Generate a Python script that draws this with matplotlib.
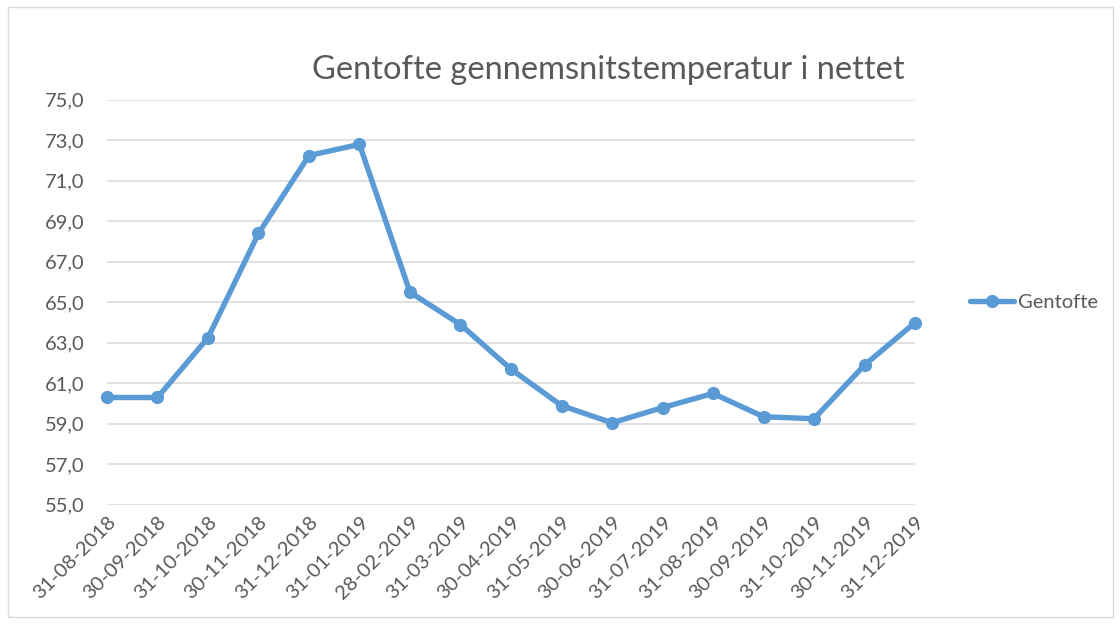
import matplotlib
matplotlib.use("Agg")
import matplotlib.pyplot as plt
from matplotlib.patches import Rectangle

dates = ["31-08-2018", "30-09-2018", "31-10-2018", "30-11-2018", "31-12-2018",
         "31-01-2019", "28-02-2019", "31-03-2019", "30-04-2019", "31-05-2019",
         "30-06-2019", "31-07-2019", "31-08-2019", "30-09-2019", "31-10-2019",
         "30-11-2019", "31-12-2019"]
gentofte = [60.3, 60.3, 63.25, 68.4, 72.25, 72.8, 65.5, 63.9, 61.7, 59.9,
            59.05, 59.8, 60.5, 59.35, 59.25, 61.9, 64.0]
yticks = [55, 57, 59, 61, 63, 65, 67, 69, 71, 73, 75]
title = "Gentofte gennemsnitstemperatur i nettet"
series_name = "Gentofte"

plt.rcParams['font.family'] = ['Lato', 'DejaVu Sans']
txt = "#595959"
blue = "#5B9BD5"

fig = plt.figure(figsize=(11.2, 6.24), dpi=100)
fig.patches.append(Rectangle((0.007, 0.012), 0.987, 0.976, transform=fig.transFigure,
                             fill=False, edgecolor="#D9D9D9", linewidth=1.0))
ax = fig.add_axes([0.0955, 0.191, 0.7215, 0.649])

x = list(range(len(dates)))
ax.plot(x, gentofte, color=blue, linewidth=3.9, marker="o", markersize=8.5,
        label=series_name, solid_capstyle="round", solid_joinstyle="round",
        zorder=3, clip_on=False)

ax.set_xlim(0, len(dates) - 1)
ax.set_ylim(55, 75)
ax.set_yticks(yticks)
ax.set_yticklabels([f"{v:.1f}".replace(".", ",") for v in yticks])
ax.set_xticks(x)
ax.set_xticklabels(dates, rotation=45, ha="right", va="top", rotation_mode="anchor")
ax.tick_params(axis="both", length=0, colors=txt, labelsize=14.5)
ax.tick_params(axis="y", pad=16)
ax.tick_params(axis="x", pad=6)
ax.grid(axis="y", color="#D9D9D9", linewidth=1.1)
ax.set_axisbelow(True)
for s in ax.spines.values():
    s.set_visible(False)

fig.text(0.543, 0.888, title, ha="center", va="center", fontsize=23.5, color=txt)

leg = ax.legend(loc="center left", bbox_to_anchor=(1.045, 0.5), frameon=False,
                fontsize=14.5, handlelength=2.2, handletextpad=0.2)
for t in leg.get_texts():
    t.set_color(txt)

fig.savefig("out.png", dpi=100)
